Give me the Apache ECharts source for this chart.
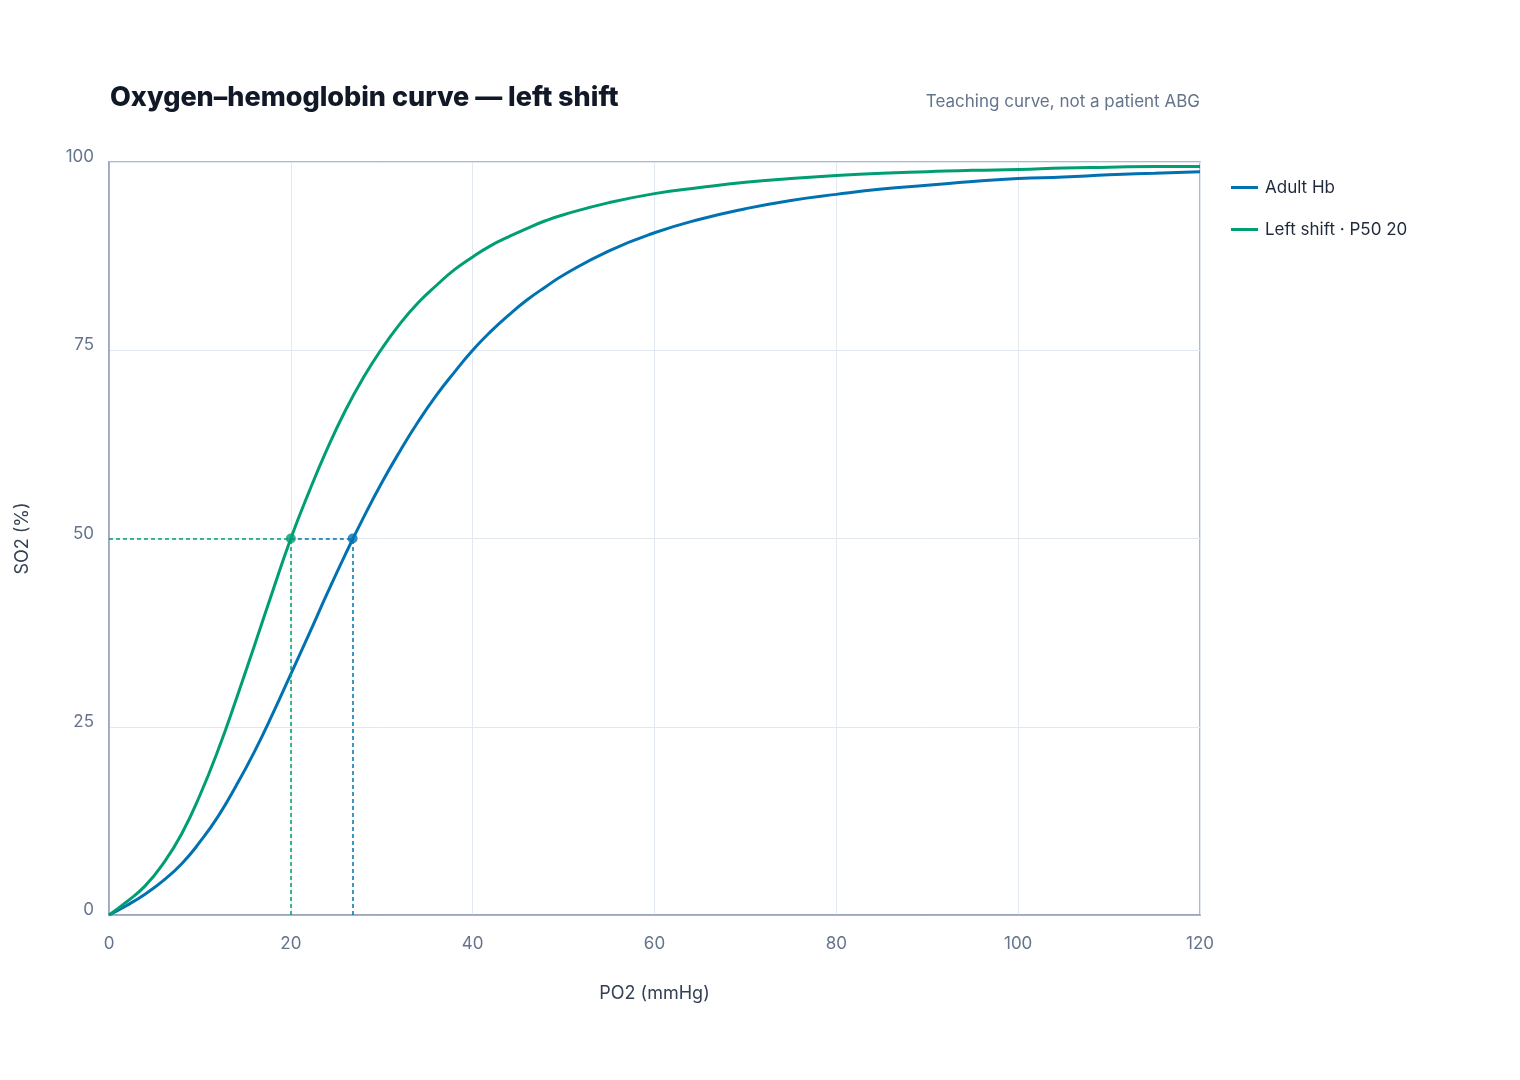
<!DOCTYPE html>
<html>
<head>
<meta charset="utf-8">
<title>Oxygen-hemoglobin curve</title>
<script src="https://cdn.jsdelivr.net/npm/echarts@6/dist/echarts.min.js"></script>
<style>
  html, body { margin: 0; padding: 0; background: #fff; }
  #chart { width: 1520px; height: 1080px; }
</style>
</head>
<body>
<div id="chart"></div>
<script>
// PO2 (mmHg) sample points
const po2 = [0, 2, 4, 6, 8, 10, 12, 14, 16, 18, 20, 22, 24, 26, 28, 30, 32, 34, 36, 38, 40,
  42, 44, 46, 48, 50, 55, 60, 65, 70, 75, 80, 85, 90, 95, 100, 105, 110, 115, 120];

// SO2 (%) - normal adult haemoglobin
const adultSo2 = [0, 1.3, 2.8, 4.6, 6.8, 9.7, 13.1, 17.2, 21.7, 26.7, 32.0, 37.3, 42.7, 47.9, 52.8,
  57.4, 61.6, 65.5, 69.0, 72.1, 75.0, 77.5, 79.7, 81.7, 83.4, 85.0, 88.2, 90.6, 92.4, 93.8,
  94.9, 95.7, 96.4, 96.9, 97.4, 97.8, 98.0, 98.3, 98.5, 98.7];

// SO2 (%) - left-shifted curve, P50 20
const leftSo2 = [0, 1.8, 3.9, 6.9, 10.8, 15.9, 21.9, 28.7, 35.8, 43.0, 50.0, 56.2, 61.9, 67.0, 71.4,
  75.2, 78.5, 81.3, 83.6, 85.7, 87.4, 88.9, 90.1, 91.2, 92.2, 93.0, 94.6, 95.8, 96.6, 97.3,
  97.8, 98.2, 98.5, 98.7, 98.9, 99.0, 99.2, 99.3, 99.4, 99.4];

const p50Adult = [26.8, 50];
const p50Left = [20, 50];

const xTicks = [0, 20, 40, 60, 80, 100, 120];
const yTicks = [0, 25, 50, 75, 100];

const BLUE = '#0072B2';
const GREEN = '#009E73';
const FONT = 'Inter, "Noto Sans", sans-serif';

const chart = echarts.init(document.getElementById('chart'));

const pairs = (xs, ys) => xs.map((x, i) => [x, ys[i]]);

const dashed = (color) => ({ color: color, type: [4, 3], width: 1.5 });

chart.setOption({
  animation: false,
  textStyle: { fontFamily: FONT },
  title: [
    {
      text: 'Oxygen–hemoglobin curve — left shift',
      left: 110, top: 84, padding: 0,
      textStyle: { fontSize: 27, fontWeight: 800, color: '#111827', fontFamily: FONT }
    },
    {
      text: 'Teaching curve, not a patient ABG',
      right: 320, top: 93, padding: 0,
      textStyle: { fontSize: 17, fontWeight: 400, color: '#64748b', fontFamily: FONT }
    }
  ],
  legend: {
    orient: 'vertical',
    left: 1226, top: 174,
    itemWidth: 27, itemHeight: 3, itemGap: 25,
    icon: 'rect',
    textStyle: { fontSize: 17, color: '#1e293b', padding: [0, 0, 0, 2] },
    data: ['Adult Hb', 'Left shift · P50 20']
  },
  grid: {
    left: 109, right: 320, top: 162, bottom: 165,
    show: true, borderColor: '#94a3b8', borderWidth: 1.5,
    containLabel: false
  },
  xAxis: {
    type: 'value', min: 0, max: 120, interval: 20,
    name: 'PO2 (mmHg)', nameLocation: 'middle', nameGap: 70,
    nameTextStyle: { fontSize: 18, color: '#334155' },
    axisLine: { show: true, lineStyle: { color: '#94a3b8', width: 1.5 } },
    axisTick: { show: false },
    axisLabel: { fontSize: 17, color: '#64748b', margin: 20,
      formatter: (v) => xTicks.includes(v) ? String(v) : '' },
    splitLine: { show: true, lineStyle: { color: '#e2e8f0', width: 1 } }
  },
  yAxis: {
    type: 'value', min: 0, max: 100, interval: 25,
    name: 'SO2 (%)', nameLocation: 'middle', nameGap: 77,
    nameTextStyle: { fontSize: 18, color: '#334155' },
    axisLine: { show: true, lineStyle: { color: '#94a3b8', width: 1.5 } },
    axisTick: { show: false },
    axisLabel: { fontSize: 17, color: '#64748b', margin: 15,
      verticalAlign: 'bottom', lineHeight: 10,
      formatter: (v) => yTicks.includes(v) ? String(v) : '' },
    splitLine: { show: true, lineStyle: { color: '#e2e8f0', width: 1 } }
  },
  series: [
    {
      name: 'Adult Hb',
      type: 'line',
      data: pairs(po2, adultSo2),
      showSymbol: false,
      smooth: 0.5,
      color: BLUE,
      lineStyle: { width: 3, color: BLUE },
      z: 3,
      markLine: {
        silent: true, symbol: 'none', label: { show: false },
        lineStyle: dashed(BLUE),
        data: [
          [{ coord: [p50Left[0], 50] }, { coord: [p50Adult[0], 50] }],
          [{ coord: [p50Adult[0], 0] }, { coord: [p50Adult[0], 50] }]
        ]
      }
    },
    {
      name: 'Left shift · P50 20',
      type: 'line',
      data: pairs(po2, leftSo2),
      showSymbol: false,
      smooth: 0.5,
      color: GREEN,
      lineStyle: { width: 3, color: GREEN },
      z: 3,
      markLine: {
        silent: true, symbol: 'none', label: { show: false },
        lineStyle: dashed(GREEN),
        data: [
          [{ coord: [0, 50] }, { coord: [p50Left[0], 50] }],
          [{ coord: [p50Left[0], 0] }, { coord: [p50Left[0], 50] }]
        ]
      }
    },
    {
      name: 'P50 adult',
      type: 'scatter',
      data: [p50Adult],
      symbolSize: 10,
      itemStyle: { color: BLUE },
      z: 5
    },
    {
      name: 'P50 left',
      type: 'scatter',
      data: [p50Left],
      symbolSize: 10,
      itemStyle: { color: GREEN },
      z: 5
    }
  ]
});
</script>
</body>
</html>
